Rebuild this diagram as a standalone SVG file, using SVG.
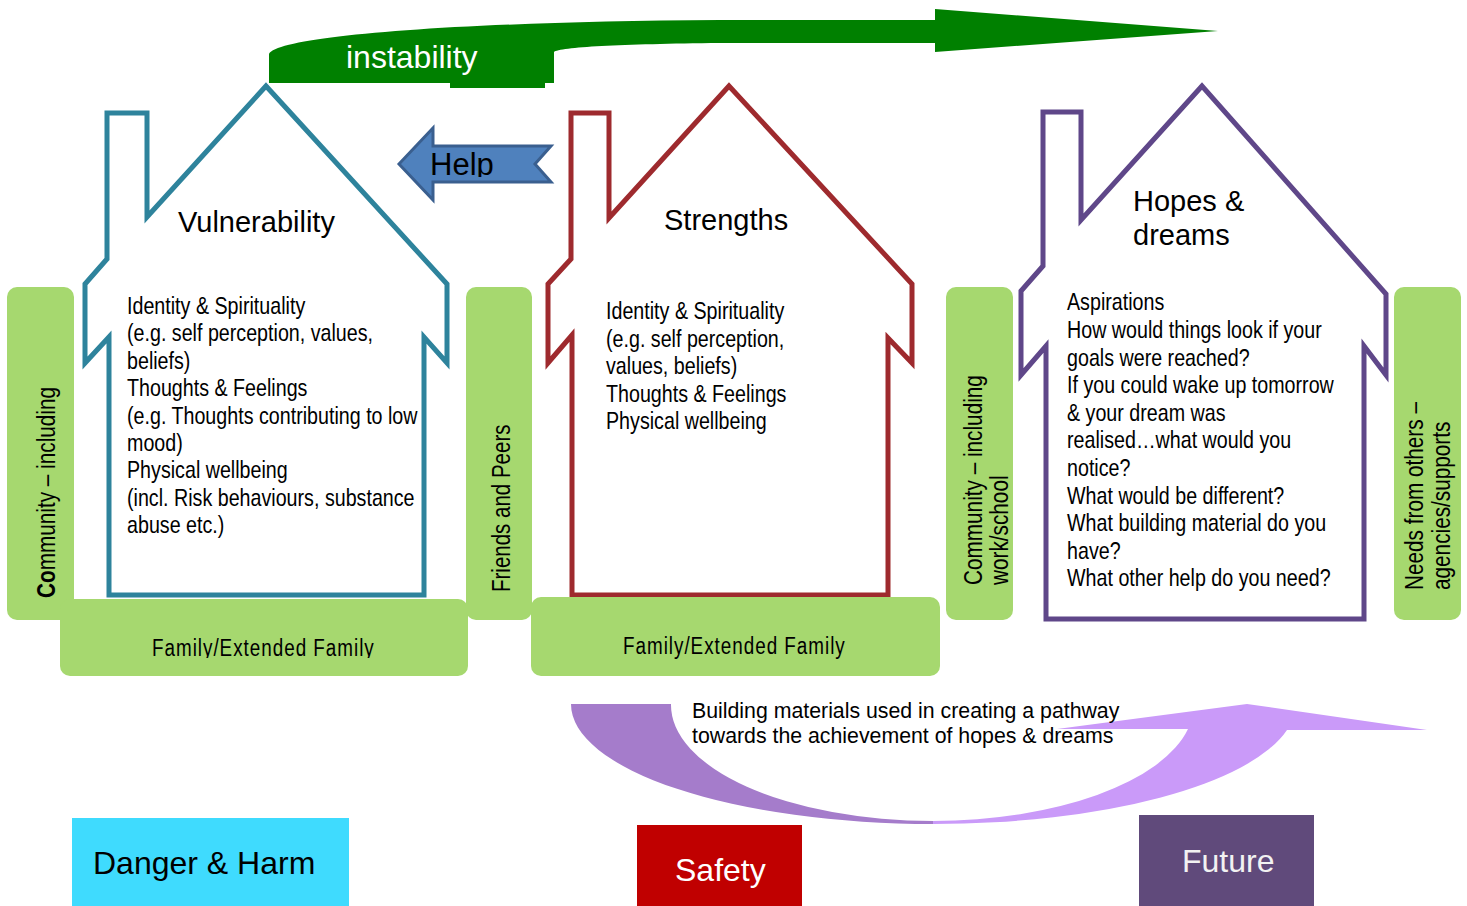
<svg xmlns="http://www.w3.org/2000/svg" width="1467" height="906" viewBox="0 0 1467 906">
<style>
.title{font-family:"Liberation Sans",Arial,sans-serif;font-size:29px;fill:#000}
.body{font-family:"Liberation Sans",Arial,sans-serif;font-size:24px;fill:#000}
.side{font-family:"Liberation Sans",Arial,sans-serif;font-size:25px;fill:#000}
.fam{font-family:"Liberation Sans",Arial,sans-serif;font-size:23px;letter-spacing:1.2px;fill:#000}
.green{fill:#a6d86f}
.house{fill:#fff;stroke-width:5;stroke-linejoin:miter}
.big{font-family:"Liberation Sans",Arial,sans-serif;font-size:32px}
</style>
<defs>
<filter id="soft" x="-5%" y="-5%" width="110%" height="110%"><feGaussianBlur stdDeviation="0.7"/></filter>
<clipPath id="helpclip"><rect x="399" y="120" width="153" height="57"/></clipPath>
<clipPath id="famclip"><rect x="60" y="599" width="408" height="59"/></clipPath>
</defs>
<rect width="1467" height="906" fill="#fff"/>

<g id="connectors">
  <g id="instability-arrow">
    <path d="M269,83 L269,55 C270,38 430,22 720,20 L935,20 L935,9 L1218,31 L935,52 L935,43 L720,43 C620,44 560,47 554,52 L554,83 Z" fill="#008000"/>
    <rect x="450" y="82" width="95" height="6" fill="#008000"/>
    <text x="346" y="68" class="big" fill="#fff">instability</text>
  </g>
  <g id="help-arrow">
    <polygon points="399,164 433,128 433,146 551,146 535,164 551,182 433,182 433,200" fill="#4f81bd" stroke="#3a5f8f" stroke-width="3" stroke-linejoin="miter"/>
    <text x="430" y="175" clip-path="url(#helpclip)" style="font-family:'Liberation Sans',Arial,sans-serif;font-size:31px" fill="#000">Help</text>
  </g>
  <g id="pathway-arrow">
    <path d="M571,704 L671,704 A262,116 0 0 0 933,821 L933,824 A362,120 0 0 1 571,704 Z" fill="#a57ccb"/>
    <path d="M933,821 A262,116 0 0 0 1188,729 L1057,729 L1247,704 L1427,730 L1287,730 A362,120 0 0 1 933,824 Z" fill="#ca9af9"/>
  </g>
</g>

<g id="house-vulnerability">
  <path class="house" filter="url(#soft)" stroke="#2d839c" d="M266,86 L147,217 L147,113 L107,113 L107,259 L85,284 L85,363 L109,337 L109,595 L424,595 L424,337 L447,363 L447,284 Z"/>
  <text x="178" y="232" class="title">Vulnerability</text>
  <text class="body" transform="translate(127,0) scale(0.82,1)">
    <tspan x="0" y="314">Identity &amp; Spirituality</tspan>
    <tspan x="0" y="341.4">(e.g. self perception, values,</tspan>
    <tspan x="0" y="368.8">beliefs)</tspan>
    <tspan x="0" y="396.2">Thoughts &amp; Feelings</tspan>
    <tspan x="0" y="423.6">(e.g. Thoughts contributing to low</tspan>
    <tspan x="0" y="451">mood)</tspan>
    <tspan x="0" y="478.4">Physical wellbeing</tspan>
    <tspan x="0" y="505.8">(incl. Risk behaviours, substance</tspan>
    <tspan x="0" y="533.2">abuse etc.)</tspan>
  </text>
</g>

<g id="house-strengths">
  <path class="house" filter="url(#soft)" stroke="#9e2a2d" d="M729,86 L609,218 L609,113 L571,113 L571,259 L548,284 L548,363 L572,335 L572,595 L888,595 L888,338 L912,363 L912,284 Z"/>
  <text x="664" y="230" class="title">Strengths</text>
  <text class="body" transform="translate(606,0) scale(0.82,1)">
    <tspan x="0" y="319.5">Identity &amp; Spirituality</tspan>
    <tspan x="0" y="347">(e.g. self perception,</tspan>
    <tspan x="0" y="374.5">values, beliefs)</tspan>
    <tspan x="0" y="402">Thoughts &amp; Feelings</tspan>
    <tspan x="0" y="429.5">Physical wellbeing</tspan>
  </text>
</g>

<g id="house-hopes">
  <path class="house" filter="url(#soft)" stroke="#5e4689" d="M1202,86 L1081,220 L1081,112 L1043,112 L1043,266 L1021,291 L1021,375 L1046,346 L1046,619 L1364,619 L1364,346 L1386,375 L1386,294 Z"/>
  <text class="title">
    <tspan x="1133" y="211">Hopes &amp;</tspan>
    <tspan x="1133" y="245">dreams</tspan>
  </text>
  <text class="body" transform="translate(1067,0) scale(0.82,1)">
    <tspan x="0" y="310.5">Aspirations</tspan>
    <tspan x="0" y="338.1">How would things look if your</tspan>
    <tspan x="0" y="365.7">goals were reached?</tspan>
    <tspan x="0" y="393.3">If you could wake up tomorrow</tspan>
    <tspan x="0" y="420.9">&amp; your dream was</tspan>
    <tspan x="0" y="448.5">realised…what would you</tspan>
    <tspan x="0" y="476.1">notice?</tspan>
    <tspan x="0" y="503.7">What would be different?</tspan>
    <tspan x="0" y="531.3">What building material do you</tspan>
    <tspan x="0" y="558.9">have?</tspan>
    <tspan x="0" y="586.5">What other help do you need?</tspan>
  </text>
</g>

<g id="community-left">
  <rect class="green" x="7" y="287" width="67" height="333" rx="10"/>
  <text class="side" transform="translate(55,598) rotate(-90) scale(0.83,1)"><tspan font-weight="bold">Co</tspan>mmunity – including</text>
</g>
<g id="family-left">
  <rect class="green" x="60" y="599" width="408" height="77" rx="10"/>
  <g clip-path="url(#famclip)">
    <text class="fam" transform="translate(152,656) scale(0.82,1)">Family/Extended Family</text>
  </g>
</g>
<g id="friends">
  <rect class="green" x="466" y="287" width="66" height="333" rx="10"/>
  <text class="side" transform="translate(510,592) rotate(-90) scale(0.82,1)">Friends and Peers</text>
</g>
<g id="family-middle">
  <rect class="green" x="531" y="597" width="409" height="79" rx="10"/>
  <text class="fam" transform="translate(623,654) scale(0.82,1)">Family/Extended Family</text>
</g>
<g id="community-right">
  <rect class="green" x="946" y="287" width="67" height="333" rx="10"/>
  <text class="side" transform="translate(982,585) rotate(-90) scale(0.83,1)">Community – including</text>
  <text class="side" transform="translate(1008,585) rotate(-90) scale(0.83,1)">work/school</text>
</g>
<g id="needs">
  <rect class="green" x="1394" y="287" width="67" height="333" rx="10"/>
  <text class="side" transform="translate(1423,590) rotate(-90) scale(0.83,1)">Needs from others –</text>
  <text class="side" transform="translate(1450,590) rotate(-90) scale(0.83,1)">agencies/supports</text>
</g>

<g id="pathway-label">
  <text style="font-family:'Liberation Sans',Arial,sans-serif;font-size:21.3px" fill="#000">
    <tspan x="692" y="718">Building materials used in creating a pathway</tspan>
    <tspan x="692" y="743">towards the achievement of hopes &amp; dreams</tspan>
  </text>
</g>

<g id="danger">
  <rect x="72" y="818" width="277" height="88" fill="#3fdbfe"/>
  <text x="93" y="874" class="big" fill="#000">Danger &amp; Harm</text>
</g>
<g id="safety">
  <rect x="637" y="825" width="165" height="81" fill="#c00000"/>
  <text x="675" y="881" class="big" fill="#fff">Safety</text>
</g>
<g id="future">
  <rect x="1139" y="815" width="175" height="91" fill="#604a7b"/>
  <text x="1182" y="872" class="big" fill="#f2f2f2">Future</text>
</g>
</svg>
